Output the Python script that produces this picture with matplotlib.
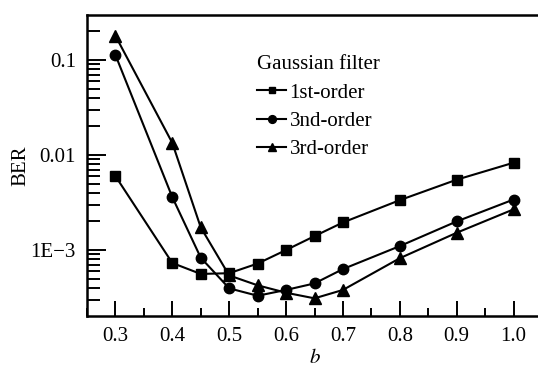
import matplotlib
matplotlib.use("Agg")
import matplotlib.pyplot as plt
from matplotlib.ticker import FixedLocator, FuncFormatter, LogLocator, NullFormatter, MultipleLocator

plt.rcParams["font.family"] = ["Liberation Serif", "DejaVu Serif"]
plt.rcParams["mathtext.fontset"] = "stix"

b_values = [0.3, 0.4, 0.45, 0.5, 0.55, 0.6, 0.65, 0.7, 0.8, 0.9, 1.0]
ber_1st = [6.0e-3, 7.3e-4, 5.6e-4, 5.7e-4, 7.2e-4, 1.0e-3, 1.4e-3, 1.95e-3, 3.35e-3, 5.5e-3, 8.3e-3]
ber_3nd = [0.113, 3.6e-3, 8.3e-4, 3.95e-4, 3.3e-4, 3.8e-4, 4.45e-4, 6.3e-4, 1.1e-3, 2.0e-3, 3.4e-3]
ber_3rd = [0.18, 0.0134, 1.73e-3, 5.4e-4, 4.25e-4, 3.55e-4, 3.1e-4, 3.8e-4, 8.2e-4, 1.52e-3, 2.68e-3]

legend_title = "Gaussian filter"
series_labels = ["1st-order", "3nd-order", "3rd-order"]
x_ticks = [0.3, 0.4, 0.5, 0.6, 0.7, 0.8, 0.9, 1.0]
y_ticks = [1e-3, 1e-2, 1e-1]
y_tick_labels = {1e-3: "1E\u22123", 1e-2: "0.01", 1e-1: "0.1"}

W, H = 538, 367
fig = plt.figure(figsize=(W / 100, H / 100), dpi=100)
ax = fig.add_axes([87 / W, (H - 316) / H, 455 / W, 301 / H])

style = dict(color="black", lw=1.5)
ax.plot(b_values, ber_1st, marker="s", ms=6.5, label=series_labels[0], **style)
ax.plot(b_values, ber_3nd, marker="o", ms=7.5, label=series_labels[1], **style)
ax.plot(b_values, ber_3rd, marker="^", ms=8, label=series_labels[2], **style)

ax.set_yscale("log")
ax.set_xlim(0.25, 1.05)
ax.set_ylim(2.02e-4, 0.298)

ax.xaxis.set_major_locator(FixedLocator(x_ticks))
ax.xaxis.set_minor_locator(MultipleLocator(0.05))
ax.xaxis.set_major_formatter(FuncFormatter(lambda v, p: f"{v:.1f}"))
ax.yaxis.set_major_locator(FixedLocator(y_ticks))
ax.yaxis.set_minor_locator(LogLocator(base=10, subs=range(2, 10), numticks=20))
ax.yaxis.set_minor_formatter(NullFormatter())
ax.yaxis.set_major_formatter(FuncFormatter(lambda v, p: y_tick_labels.get(v, "")))

ax.tick_params(which="major", direction="in", length=11, width=1.4, labelsize=15, pad=8)
ax.tick_params(which="minor", direction="in", length=6, width=1.4)
ax.tick_params(axis="y", which="major", length=14)
ax.tick_params(axis="y", which="minor", length=9)

for s in ax.spines.values():
    s.set_linewidth(1.8)
ax.spines["right"].set_visible(False)

ax.set_xlabel("$b$", fontsize=15, labelpad=2)
ax.set_ylabel("BER", fontsize=15, labelpad=0)

leg = ax.legend(title=legend_title, loc="upper left", bbox_to_anchor=(0.342, 0.915),
                frameon=False, fontsize=15, title_fontsize=15, handlelength=1.4,
                handletextpad=0.15, labelspacing=0.42, markerscale=0.75,
                alignment="left", borderpad=0.2)

fig.savefig("out.png", dpi=100)
